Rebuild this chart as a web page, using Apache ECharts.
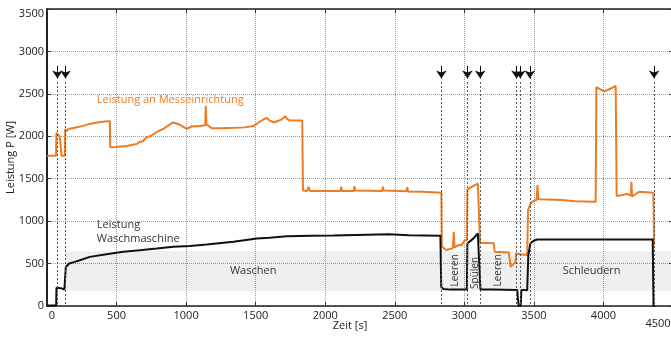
<!DOCTYPE html>
<html>
<head>
<meta charset="utf-8">
<script src="https://cdn.jsdelivr.net/npm/echarts@6/dist/echarts.min.js"></script>
<style>
  html, body { margin: 0; padding: 0; background: #fff; }
  #chart { width: 671px; height: 337px; }
</style>
</head>
<body>
<div id="chart"></div>
<script>
// Zeit [s] / Leistung [W]
var messeinrichtung = [
    [0,1770],[65,1770],[68,2040],[80,2030],[92,1995],[100,1990],[105,1770],[128,1770],[131,2085],[140,2060],
    [152,2085],[200,2100],[250,2120],[308,2146],[350,2160],[404,2172],[452,2180],[454,1870],[500,1875],[572,1886],
    [644,1910],[668,1933],[690,1945],[716,1989],[740,2000],[776,2036],[800,2060],[812,2075],[840,2090],[860,2115],
    [885,2140],[903,2162],[930,2150],[956,2134],[980,2110],[1004,2087],[1040,2115],[1100,2122],[1138,2130],[1141,2360],
    [1146,2140],[1160,2135],[1184,2095],[1250,2095],[1300,2098],[1350,2100],[1420,2105],[1484,2120],[1520,2160],[1556,2200],
    [1580,2215],[1600,2185],[1628,2165],[1660,2180],[1688,2200],[1700,2215],[1712,2235],[1725,2205],[1740,2190],[1835,2185],
    [1840,1360],[1870,1355],[1880,1405],[1890,1355],[2110,1355],[2115,1405],[2120,1355],[2205,1355],[2210,1412],[2215,1360],
    [2410,1355],[2415,1405],[2420,1360],[2585,1352],[2590,1400],[2595,1350],[2700,1345],[2835,1335],[2838,700],[2870,660],
    [2918,680],[2924,875],[2930,690],[2960,720],[2980,715],[3000,770],[3018,776],[3022,1370],[3050,1400],[3080,1426],
    [3097,1446],[3108,1440],[3113,745],[3212,740],[3218,640],[3320,630],[3333,461],[3350,490],[3368,520],[3372,620],
    [3400,610],[3452,600],[3458,1130],[3475,1200],[3488,1229],[3520,1250],[3526,1425],[3532,1262],[3548,1257],[3700,1250],
    [3800,1235],[3944,1229],[3949,2580],[4004,2528],[4050,2560],[4088,2595],[4095,1296],[4172,1320],[4198,1300],[4201,1465],
    [4206,1290],[4220,1269],[4256,1347],[4359,1335],[4364,720]
];

var waschmaschine = [
    [0,5],[66,5],[68,215],[100,210],[110,190],[125,195],[133,200],[135,460],[145,480],[160,500],
    [200,520],[236,539],[308,579],[428,610],[548,638],[668,658],[788,677],[908,697],[1028,708],[1148,724],
    [1340,756],[1508,796],[1600,805],[1724,822],[1900,828],[2060,832],[2300,840],[2456,845],[2600,835],[2828,828],
    [2834,225],[2850,200],[2900,193],[3018,193],[3022,737],[3068,800],[3097,855],[3110,850],[3116,193],[3200,193],
    [3380,190],[3390,0],[3405,0],[3410,190],[3452,185],[3460,600],[3475,740],[3500,770],[3524,784],[4000,785],
    [4354,785],[4360,0],[4370,0]
];

var pfeile = [75, 133, 2835, 3022, 3114, 3375, 3402, 3471, 4364];
var band = [133, 4500, 180, 645];   // Zeit von/bis, Leistung von/bis
var xTicks = { min: 0, max: 4500, interval: 500 };
var yTicks = { min: 0, max: 3500, interval: 500 };

var ORANGE = '#ee7b22';
var FONT = 'Open Sans';

var chart = echarts.init(document.getElementById('chart'));

var arrowHeads = pfeile.map(function (t) {
    return [{ coord: [t, 2830] }, { coord: [t, 2680] }];
});
var arrowLines = pfeile.map(function (t) {
    return [{ coord: [t, 2640] }, { coord: [t, 0] }];
});

var axisBox = {
    axisLine: { show: true, onZero: false, lineStyle: { color: '#222', width: 1.5 } },
    axisTick: { show: true, inside: true, length: 4, lineStyle: { color: '#333' } },
    axisLabel: { show: false },
    splitLine: { show: false }
};

chart.setOption({
    animation: false,
    textStyle: { fontFamily: FONT },
    grid: { left: 47, right: -2, top: 9, bottom: 31, outerBoundsMode: 'none', containLabel: false },
    xAxis: [{
        type: 'value', min: xTicks.min, max: xTicks.max, interval: xTicks.interval,
        name: 'Zeit [s]', nameLocation: 'middle', nameGap: 14, nameMoveOverlap: false,
        nameTextStyle: { fontSize: 11, color: '#222', padding: [0, 20, 0, 0] },
        axisLine: { onZero: false, lineStyle: { color: '#222', width: 1.5 } },
        axisTick: { inside: true, length: 4, lineStyle: { color: '#333' } },
        axisLabel: {
            fontSize: 11, color: '#222', margin: 4,
            formatter: function (v) {
                if (v === 0) return '{a|0}';
                if (v === 4500) return '{b|4500}';
                return v;
            },
            rich: {
                a: { fontSize: 11, color: '#222', padding: [0, 0, 0, 10] },
                b: { fontSize: 11, color: '#222', padding: [8, 30, 0, 0] }
            }
        },
        splitLine: { show: true, lineStyle: { color: '#9a9a9a', type: [1, 1] } }
    }, Object.assign({
        type: 'value', position: 'top', min: xTicks.min, max: xTicks.max, interval: xTicks.interval
    }, axisBox)],
    yAxis: [{
        type: 'value', min: yTicks.min, max: yTicks.max, interval: yTicks.interval,
        name: 'Leistung P [W]', nameLocation: 'middle', nameGap: 31, nameRotate: 90, nameMoveOverlap: false,
        nameTextStyle: { fontSize: 11, color: '#222' },
        axisLine: { show: true, onZero: false, lineStyle: { color: '#222', width: 2 } },
        axisTick: { show: true, inside: true, length: 4, lineStyle: { color: '#333' } },
        axisLabel: {
            fontSize: 11, color: '#222', margin: 3,
            formatter: function (v) {
                return v === 3500 ? '{t|3500}' : v;
            },
            rich: { t: { fontSize: 11, color: '#222', padding: [10, 0, 0, 0] } }
        },
        splitLine: { show: true, lineStyle: { color: '#9a9a9a', type: [1, 1] } }
    }, Object.assign({
        type: 'value', position: 'right', min: yTicks.min, max: yTicks.max, interval: yTicks.interval
    }, axisBox)],
    series: [{
        // grauer Bereich
        type: 'line', data: [], silent: true,
        markArea: {
            silent: true,
            itemStyle: { color: 'rgba(0,0,0,0.062)' },
            data: [[{ coord: [band[0], band[2]] }, { coord: [band[1], band[3]] }]]
        }
    }, {
        type: 'line', data: [], silent: true,
        markLine: {
            silent: true, symbol: ['none', 'none'], label: { show: false },
            lineStyle: { color: '#555', width: 1, type: [2, 2] },
            data: arrowLines
        }
    }, {
        type: 'line', data: [], silent: true,
        markLine: {
            silent: true, symbol: ['none', 'arrow'], symbolSize: 8, label: { show: false },
            lineStyle: { color: '#111', width: 1, type: 'solid' },
            itemStyle: { color: '#111' },
            data: arrowHeads
        }
    }, {
        name: 'Leistung an Messeinrichtung',
        type: 'line', data: messeinrichtung, showSymbol: false,
        lineStyle: { color: ORANGE, width: 2 }
    }, {
        name: 'Leistung Waschmaschine',
        type: 'line', data: waschmaschine, showSymbol: false,
        lineStyle: { color: '#111', width: 2 }
    }]
});

// Beschriftungen im Diagramm
function pt(t, w) {
    return chart.convertToPixel({ xAxisIndex: 0, yAxisIndex: 0 }, [t, w]);
}
function txt(str, t, w, opts) {
    var p = pt(t, w);
    opts = opts || {};
    return {
        type: 'text', x: p[0], y: p[1], rotation: opts.rot || 0, z: 10,
        style: {
            text: str, fill: opts.color || '#333', fontSize: opts.size || 11, fontFamily: FONT,
            align: opts.align || 'center', verticalAlign: 'middle'
        }
    };
}

chart.setOption({
    graphic: [
        txt('Leistung an Messeinrichtung', 358, 2430, { color: ORANGE, align: 'left' }),
        txt('Leistung', 358, 953, { align: 'left' }),
        txt('Waschmaschine', 358, 788, { align: 'left' }),
        txt('Waschen', 1482, 410),
        txt('Schleudern', 3915, 410),
        txt('Leeren', 2936, 420, { rot: Math.PI / 2, size: 10 }),
        txt('Spülen', 3078, 390, { rot: Math.PI / 2, size: 10 }),
        txt('Leeren', 3243, 420, { rot: Math.PI / 2, size: 10 })
    ]
});
</script>
</body>
</html>
